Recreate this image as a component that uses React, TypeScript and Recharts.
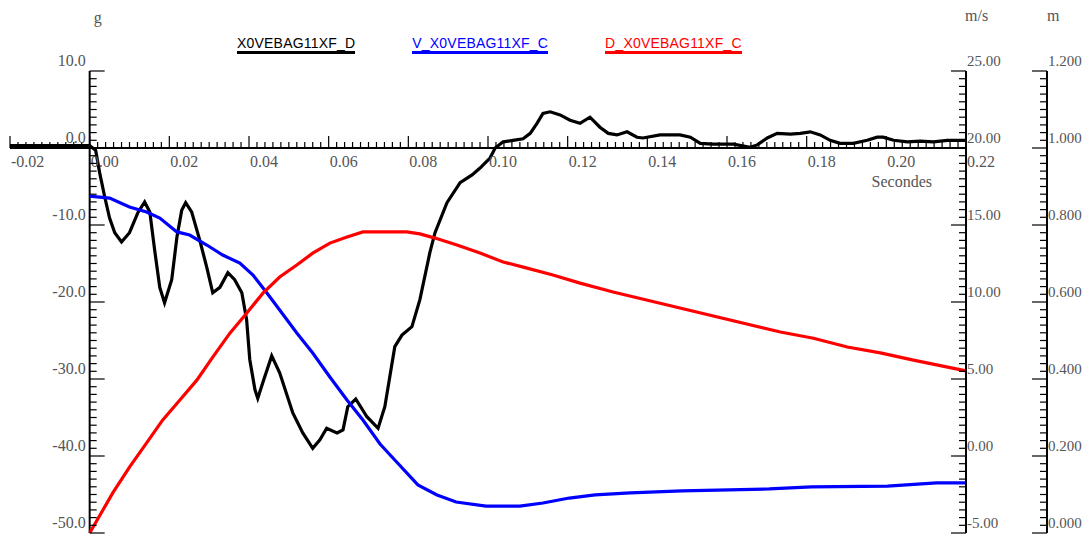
import React from "react";
import { LineChart, Line, XAxis, YAxis, ReferenceLine, Legend } from "recharts";

// accelerometer (g) against time (s)
const ACC_T = [
  -0.02, -0.001, 0.0, 0.0015, 0.0025, 0.0038, 0.005, 0.0063, 0.008, 0.01, 0.0121, 0.0138, 0.0151,
  0.0163, 0.0176, 0.0188, 0.0206, 0.0219, 0.0231, 0.0241, 0.0256, 0.0276, 0.0294, 0.0309, 0.0327,
  0.0347, 0.0364, 0.0382, 0.0394, 0.0402, 0.0415, 0.0422, 0.0437, 0.0457, 0.0477, 0.051, 0.0535,
  0.056, 0.0578, 0.0595, 0.0621, 0.0636, 0.0648, 0.0668, 0.0696, 0.0724, 0.0741, 0.0766, 0.0784,
  0.0809, 0.0829, 0.0854, 0.0867, 0.0897, 0.093, 0.096, 0.098, 0.1005, 0.1018, 0.1038, 0.1063,
  0.1088, 0.1106, 0.1123, 0.1138, 0.1156, 0.1181, 0.1206, 0.1231, 0.1256, 0.1281, 0.1302, 0.1324,
  0.1349, 0.1374, 0.1389, 0.1432, 0.1482, 0.1508, 0.1533, 0.1565, 0.1616, 0.1658, 0.1676, 0.1701,
  0.1726, 0.1759, 0.1784, 0.1809, 0.1834, 0.1859, 0.1884, 0.1917, 0.1952, 0.1977, 0.1992, 0.2018,
  0.2053, 0.2085, 0.2118, 0.2153, 0.22,
];
const ACC_G = [
  0.3, 0.3, 0.3, -0.3, -3.2, -6.4, -9.1, -11.0, -12.2, -11.0, -8.4, -7.0, -8.3,
  -13.2, -18.1, -20.1, -17.1, -11.6, -8.1, -7.1, -8.3, -11.9, -15.5, -18.8, -18.1,
  -16.2, -17.1, -18.8, -22.3, -27.5, -31.4, -32.5, -30.1, -27.0, -29.2, -34.4, -37.0,
  -39.0, -37.9, -36.4, -37.0, -36.6, -33.6, -32.6, -34.9, -36.4, -33.6, -25.8, -24.3,
  -23.2, -19.7, -13.6, -11.0, -7.1, -4.5, -3.5, -2.6, -1.3, 0.0, 0.8, 1.0,
  1.2, 1.9, 3.2, 4.5, 4.7, 4.3, 3.6, 3.2, 4.0, 2.7, 1.9, 1.7,
  2.1, 1.4, 1.3, 1.7, 1.7, 1.4, 0.6, 0.5, 0.5, 0.1, 0.4, 1.3,
  1.9, 1.8, 1.9, 2.1, 1.7, 1.0, 0.6, 0.6, 1.0, 1.4, 1.4, 1.0,
  0.8, 0.9, 0.8, 1.0, 1.0,
];

// velocity (m/s)
const VEL_T = [
  0, 0.005, 0.01, 0.0143, 0.0176, 0.0219, 0.0251, 0.0294, 0.0334, 0.0377, 0.041, 0.0445, 0.0477,
  0.052, 0.056, 0.0603, 0.0646, 0.0686, 0.0729, 0.0766, 0.0824, 0.0872, 0.092, 0.0995, 0.108,
  0.1138, 0.1204, 0.1269, 0.1357, 0.1487, 0.1706, 0.1812, 0.2003, 0.2126, 0.22,
];
const VEL_V = [
  16.88, 16.75, 16.17, 15.84, 15.45, 14.55, 14.35, 13.7, 13.05, 12.53, 11.75, 10.58, 9.48,
  7.99, 6.69, 5.13, 3.64, 2.34, 0.78, -0.26, -1.88, -2.53, -2.99, -3.25, -3.25,
  -3.05, -2.73, -2.53, -2.4, -2.27, -2.14, -2.01, -1.95, -1.75, -1.75,
];

// displacement (m)
const DSP_T = [
  0, 0.0058, 0.01, 0.0143, 0.0183, 0.0226, 0.0269, 0.0309, 0.0352, 0.0394, 0.0435, 0.0477, 0.052,
  0.056, 0.0603, 0.0646, 0.0686, 0.0729, 0.0796, 0.0829, 0.0867, 0.0922, 0.098, 0.1038, 0.1098,
  0.1163, 0.1231, 0.1314, 0.1734, 0.1817, 0.1902, 0.1985, 0.2068, 0.22,
];
const DSP_M = [
  0.0, 0.104, 0.171, 0.234, 0.293, 0.345, 0.397, 0.457, 0.519, 0.571, 0.623, 0.665, 0.696,
  0.727, 0.753, 0.769, 0.782, 0.782, 0.782, 0.777, 0.766, 0.748, 0.727, 0.704, 0.688,
  0.67, 0.649, 0.626, 0.522, 0.506, 0.483, 0.468, 0.449, 0.421,
];

const T_MAJOR = [-0.02, 0, 0.02, 0.04, 0.06, 0.08, 0.1, 0.12, 0.14, 0.16, 0.18, 0.2, 0.22];
const G_MAJOR = [-50, -40, -30, -20, -10, 0, 10];
const V_MAJOR = [-5, 0, 5, 10, 15, 20, 25];
const D_MAJOR = [0, 0.2, 0.4, 0.6, 0.8, 1.0, 1.2];

const SERIES_NAMES = ["X0VEBAG11XF_D", "V_X0VEBAG11XF_C", "D_X0VEBAG11XF_C"];
const COLORS = ["#000000", "#0000ff", "#ff0000"];

const accData = ACC_T.map((t, i) => ({ t, g: ACC_G[i] }));
const velData = VEL_T.map((t, i) => ({ t, v: VEL_V[i] }));
const dspData = DSP_T.map((t, i) => ({ t, d: DSP_M[i] }));

const W = 1089;
const H = 534;
const G_AXIS_W = 1;
const MARGIN = { top: 71, right: 0, bottom: 0, left: 10 - G_AXIS_W };
const X_AXIS_H = 1;
const V_AXIS_W = 81;
const D_AXIS_W = 42;
const PLOT_LEFT = MARGIN.left + G_AXIS_W;
const PLOT_W = W - PLOT_LEFT - MARGIN.right - V_AXIS_W - D_AXIS_W;
const PLOT_H = H - MARGIN.top - MARGIN.bottom - X_AXIS_H;
const PLOT_RIGHT = PLOT_LEFT + PLOT_W;
const T_DOMAIN = [T_MAJOR[0], T_MAJOR[T_MAJOR.length - 1]];
const G_DOMAIN = [G_MAJOR[0], G_MAJOR[G_MAJOR.length - 1]];
// the g axis sits at t = 0 and the time axis at g = 0, inside the plot
const X0 = PLOT_LEFT + (PLOT_W * (0 - T_DOMAIN[0])) / (T_DOMAIN[1] - T_DOMAIN[0]);
const Y0 = MARGIN.top + (PLOT_H * (G_DOMAIN[1] - 0)) / (G_DOMAIN[1] - G_DOMAIN[0]);

const withMinor = (major: number[], n = 10) => {
  const out: number[] = [];
  for (let i = 0; i < major.length - 1; i++) {
    const step = (major[i + 1] - major[i]) / n;
    for (let k = 0; k < n; k++) out.push(+(major[i] + k * step).toFixed(6));
  }
  out.push(major[major.length - 1]);
  return out;
};
const isMajor = (v: number, majors: number[]) => majors.some((m) => Math.abs(m - v) < 1e-9);

const LABEL = {
  fontFamily: "'Liberation Serif', 'Times New Roman', serif",
  fontSize: 16,
  fill: "#555",
};

const TimeTick = (props: any) => {
  const { x, payload } = props;
  const major = isMajor(payload.value, T_MAJOR);
  return (
    <g>
      <line x1={x} x2={x} y1={Y0} y2={Y0 - (major ? 12 : 6)} stroke="#000" strokeWidth={1.2} />
      {major && (
        <text x={x + 1} y={Y0 + 19} {...LABEL}>
          {payload.value.toFixed(2)}
        </text>
      )}
    </g>
  );
};

const GTick = (props: any) => {
  const { y, payload } = props;
  const major = isMajor(payload.value, G_MAJOR);
  return (
    <g>
      <line x1={X0} x2={X0 + (major ? 15 : 7)} y1={y} y2={y} stroke="#000" strokeWidth={1.2} />
      {major && (
        <text x={X0 - 4} y={y - 5} textAnchor="end" {...LABEL}>
          {payload.value.toFixed(1)}
        </text>
      )}
    </g>
  );
};

const rightTick = (majors: number[], digits: number) => (props: any) => {
  const { x, y, payload } = props;
  const major = isMajor(payload.value, majors);
  return (
    <g>
      <line x1={x - (major ? 15 : 7)} x2={x} y1={y} y2={y} stroke="#000" strokeWidth={1.2} />
      {major && (
        <text x={x + 1} y={y - 5} {...LABEL} fontSize={15}>
          {payload.value.toFixed(digits)}
        </text>
      )}
    </g>
  );
};

const LegendRow = ({ payload }: any) => {
  const items = [...(payload || [])].sort(
    (a: any, b: any) => SERIES_NAMES.indexOf(a.value) - SERIES_NAMES.indexOf(b.value)
  );
  return (
    <div
      style={{
        display: "flex",
        gap: 57,
        paddingLeft: 237,
        fontFamily: "'Liberation Sans', Arial, sans-serif",
        fontSize: 14,
        lineHeight: "16px",
        letterSpacing: 0.2,
      }}
    >
      {items.map((p: any) => (
        <span key={p.value} style={{ color: p.color, borderBottom: `3px solid ${p.color}` }}>
          {p.value}
        </span>
      ))}
    </div>
  );
};

const App: React.FC = () => {
  return (
    <div style={{ position: "absolute", left: 0, top: 0 }}>
      <LineChart width={W} height={H} margin={MARGIN}>
        <XAxis
          type="number"
          dataKey="t"
          domain={T_DOMAIN}
          ticks={withMinor(T_MAJOR)}
          interval={0}
          height={X_AXIS_H}
          axisLine={false}
          tickLine={false}
          tickSize={0}
          tickMargin={0}
          tick={<TimeTick />}
        />
        <YAxis
          yAxisId="g"
          orientation="left"
          width={G_AXIS_W}
          domain={G_DOMAIN}
          ticks={withMinor(G_MAJOR)}
          interval={0}
          axisLine={false}
          tickLine={false}
          tickSize={0}
          tickMargin={0}
          tick={<GTick />}
        />
        <YAxis
          yAxisId="r1_vel"
          orientation="right"
          width={V_AXIS_W}
          domain={[V_MAJOR[0], V_MAJOR[V_MAJOR.length - 1]]}
          ticks={withMinor(V_MAJOR)}
          interval={0}
          axisLine={{ stroke: "#000", strokeWidth: 2 }}
          tickLine={false}
          tickSize={0}
          tickMargin={0}
          tick={rightTick(V_MAJOR, 2)}
        />
        <YAxis
          yAxisId="r2_disp"
          orientation="right"
          width={D_AXIS_W}
          domain={[D_MAJOR[0], D_MAJOR[D_MAJOR.length - 1]]}
          ticks={withMinor(D_MAJOR)}
          interval={0}
          axisLine={{ stroke: "#000", strokeWidth: 2 }}
          tickLine={false}
          tickSize={0}
          tickMargin={0}
          tick={rightTick(D_MAJOR, 3)}
        />
        <ReferenceLine yAxisId="g" y={0} stroke="#000" strokeWidth={2} />
        <ReferenceLine yAxisId="g" x={0} stroke="#000" strokeWidth={2} />
        <Legend
          layout="vertical"
          align="center"
          verticalAlign="middle"
          wrapperStyle={{ top: 35, left: 0, width: W }}
          content={(props: any) => <LegendRow {...props} />}
        />
        <Line
          yAxisId="g"
          data={accData}
          dataKey="g"
          name={SERIES_NAMES[0]}
          type="linear"
          stroke={COLORS[0]}
          strokeWidth={3.2}
          dot={false}
          isAnimationActive={false}
        />
        <Line
          yAxisId="r1_vel"
          data={velData}
          dataKey="v"
          name={SERIES_NAMES[1]}
          type="linear"
          stroke={COLORS[1]}
          strokeWidth={3.2}
          dot={false}
          isAnimationActive={false}
        />
        <Line
          yAxisId="r2_disp"
          data={dspData}
          dataKey="d"
          name={SERIES_NAMES[2]}
          type="linear"
          stroke={COLORS[2]}
          strokeWidth={3.2}
          dot={false}
          isAnimationActive={false}
        />
        <text x={X0 + 4} y={23} {...LABEL}>g</text>
        <text x={PLOT_RIGHT - 1} y={21} {...LABEL}>m/s</text>
        <text x={PLOT_RIGHT + V_AXIS_W} y={21} {...LABEL}>m</text>
        <text x={PLOT_RIGHT - 34} y={Y0 + 39} textAnchor="end" {...LABEL}>Secondes</text>
      </LineChart>
    </div>
  );
};

export default App;
